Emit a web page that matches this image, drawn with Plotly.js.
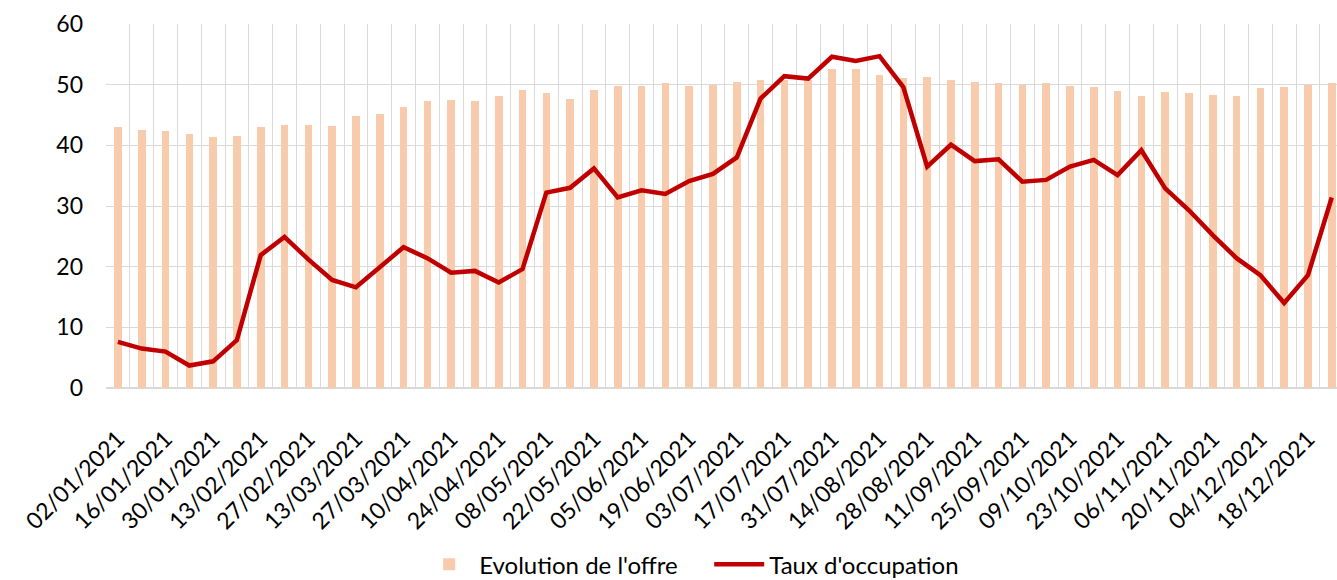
<!DOCTYPE html>
<html>
<head>
<meta charset="utf-8">
<script src="https://cdn.plot.ly/plotly-3.0.1.min.js"></script>
<style>
html,body{margin:0;padding:0;background:#fff;}
#chart{width:1337px;height:580px;}
</style>
</head>
<body>
<div id="chart"></div>
<script>
// Weeks (Saturday dates, 2021)
const weeks = [
  "02/01/2021","09/01/2021","16/01/2021","23/01/2021","30/01/2021","06/02/2021",
  "13/02/2021","20/02/2021","27/02/2021","06/03/2021","13/03/2021","20/03/2021",
  "27/03/2021","03/04/2021","10/04/2021","17/04/2021","24/04/2021","01/05/2021",
  "08/05/2021","15/05/2021","22/05/2021","29/05/2021","05/06/2021","12/06/2021",
  "19/06/2021","26/06/2021","03/07/2021","10/07/2021","17/07/2021","24/07/2021",
  "31/07/2021","07/08/2021","14/08/2021","21/08/2021","28/08/2021","04/09/2021",
  "11/09/2021","18/09/2021","25/09/2021","02/10/2021","09/10/2021","16/10/2021",
  "23/10/2021","30/10/2021","06/11/2021","13/11/2021","20/11/2021","27/11/2021",
  "04/12/2021","11/12/2021","18/12/2021","25/12/2021"
];

// Labels shown on the x axis
const tickLabels = [
  "02/01/2021","16/01/2021","30/01/2021","13/02/2021","27/02/2021","13/03/2021",
  "27/03/2021","10/04/2021","24/04/2021","08/05/2021","22/05/2021","05/06/2021",
  "19/06/2021","03/07/2021","17/07/2021","31/07/2021","14/08/2021","28/08/2021",
  "11/09/2021","25/09/2021","09/10/2021","23/10/2021","06/11/2021","20/11/2021",
  "04/12/2021","18/12/2021"
];

// Evolution de l'offre (bars)
const offre = [
  43.0, 42.5, 42.4, 41.9, 41.3, 41.5, 43.0, 43.4, 43.4, 43.2,
  44.9, 45.2, 46.3, 47.3, 47.4, 47.3, 48.2, 49.1, 48.6, 47.7,
  49.1, 49.7, 49.7, 50.2, 49.7, 49.9, 50.4, 50.8, 50.8, 50.8,
  52.6, 52.6, 51.6, 51.1, 51.3, 50.8, 50.4, 50.2, 50.0, 50.2,
  49.7, 49.6, 49.0, 48.1, 48.8, 48.6, 48.3, 48.1, 49.4, 49.6,
  50.0, 50.2
];

// Taux d'occupation (line)
const taux = [
  7.6, 6.5, 6.0, 3.7, 4.4, 7.9, 21.9, 24.9, 21.2, 17.8,
  16.6, 20.0, 23.2, 21.4, 19.0, 19.3, 17.4, 19.6, 32.2, 33.0,
  36.2, 31.4, 32.6, 32.0, 34.1, 35.3, 38.0, 47.7, 51.4, 51.0,
  54.6, 53.9, 54.7, 49.6, 36.5, 40.1, 37.4, 37.7, 34.0, 34.3,
  36.5, 37.6, 35.1, 39.2, 32.9, 29.3, 25.2, 21.4, 18.6, 14.0,
  18.6, 31.4
];

const tickText = weeks.map(w => tickLabels.includes(w) ? w : "");

const FONT = "Lato, 'Noto Sans', sans-serif";

const data = [
  {
    type: "bar",
    name: "Evolution de l'offre",
    x: weeks,
    y: offre,
    width: 0.32,
    marker: {color: "#f8cbad"},
    hoverinfo: "x+y"
  },
  {
    type: "scatter",
    mode: "lines",
    name: "Taux d'occupation",
    x: weeks,
    y: taux,
    line: {color: "#c00000", width: 4.5},
    hoverinfo: "x+y"
  }
];

const layout = {
  width: 1337,
  height: 580,
  margin: {l: 106, r: 0, t: 24, b: 192, autoexpand: false},
  paper_bgcolor: "#ffffff",
  plot_bgcolor: "#ffffff",
  font: {family: FONT, color: "#000000", size: 22},
  showlegend: true,
  legend: {
    orientation: "h",
    x: 0.49,
    xanchor: "center",
    y: -0.485,
    yanchor: "middle",
    itemwidth: 50,
    entrywidth: 225,
    font: {family: FONT, size: 24, color: "#000000"},
    traceorder: "normal"
  },
  xaxis: {
    type: "category",
    categoryorder: "array",
    categoryarray: weeks,
    range: [-0.5, 51.22],
    tickmode: "array",
    tickvals: weeks,
    ticktext: tickText,
    tickson: "boundaries",
    ticks: "",
    tickangle: -45,
    tickfont: {family: FONT, size: 23, color: "#000000"},
    ticklabelstandoff: 32,
    automargin: false,
    showgrid: true,
    gridcolor: "#d9d9d9",
    gridwidth: 1.3,
    showline: false,
    zeroline: false,
    fixedrange: true
  },
  yaxis: {
    range: [0, 60],
    tickmode: "linear",
    tick0: 0,
    dtick: 10,
    ticks: "",
    tickfont: {family: FONT, size: 23, color: "#000000"},
    ticklabelstandoff: 22,
    automargin: false,
    showgrid: true,
    gridcolor: "#d9d9d9",
    gridwidth: 1.3,
    zeroline: true,
    zerolinecolor: "#d9d9d9",
    zerolinewidth: 1.5,
    showline: false,
    fixedrange: true
  },
  bargap: 0
};

Plotly.newPlot("chart", data, layout, {displayModeBar: false});
</script>
</body>
</html>
